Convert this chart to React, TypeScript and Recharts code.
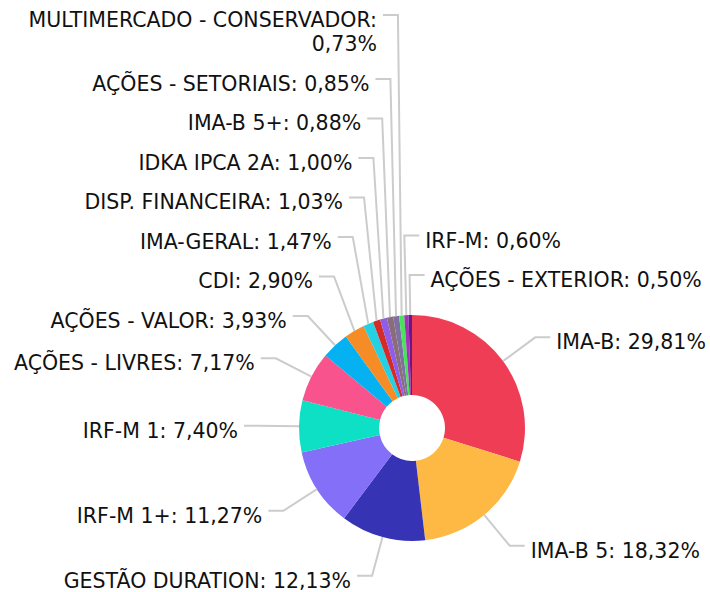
import { PieChart, Pie, Cell } from "recharts";

const categories = [
  "IMA-B",
  "IMA-B 5",
  "GESTÃO DURATION",
  "IRF-M 1+",
  "IRF-M 1",
  "AÇÕES - LIVRES",
  "AÇÕES - VALOR",
  "CDI",
  "IMA-GERAL",
  "DISP. FINANCEIRA",
  "IDKA IPCA 2A",
  "IMA-B 5+",
  "AÇÕES - SETORIAIS",
  "MULTIMERCADO - CONSERVADOR",
  "IRF-M",
  "AÇÕES - EXTERIOR",
];
const shares = [29.81, 18.32, 12.13, 11.27, 7.4, 7.17, 3.93, 2.9, 1.47, 1.03, 1.0, 0.88, 0.85, 0.73, 0.6, 0.5];
const colors = [
  "#ef3d55",
  "#feb945",
  "#3634b4",
  "#836ff8",
  "#0ee0c6",
  "#f8538c",
  "#06b1f1",
  "#f58c26",
  "#25d0e2",
  "#d42a2a",
  "#8f5ee8",
  "#8b6d79",
  "#7e70a0",
  "#46e45a",
  "#a82db8",
  "#6a1784",
];

const CX = 412;
const CY = 428;
const R = 113;
const LABEL_R = 153;
const SEG = 15;
const GAP = 6;
const ROW = 39.5;
const LINE_H = 24.5;
const WRAP_AT = 30;

const data = categories.map((name, i) => ({ name, value: shares[i] }));

type Lbl = { ex: number; ey: number; bx: number; y: number; right: boolean; lines: string[] };

function fmt(v: number) {
  return v.toFixed(2).replace(".", ",") + "%";
}

// amCharts-like layout: labels sit on a ring, then get pushed up so they don't overlap
function layoutLabels(): Lbl[] {
  const total = shares.reduce((a, b) => a + b, 0);
  let cum = 0;
  const out: (Lbl & { cw: number })[] = shares.map((v, i) => {
    const cw = ((cum + v / 2) / total) * 360;
    cum += v;
    const rad = ((90 - cw) * Math.PI) / 180;
    const bx = CX + LABEL_R * Math.cos(rad);
    const full = `${categories[i]}: ${fmt(v)}`;
    const lines = full.length > WRAP_AT ? [categories[i] + ":", fmt(v)] : [full];
    return {
      cw,
      ex: CX + R * Math.cos(rad),
      ey: CY - R * Math.sin(rad),
      bx,
      y: CY - LABEL_R * Math.sin(rad),
      right: cw < 180 || bx >= CX - 10,
      lines,
    };
  });

  const rightSide = out
    .filter((l) => l.right)
    .sort((a, b) => (a.cw > 180 ? a.cw - 360 : a.cw) - (b.cw > 180 ? b.cw - 360 : b.cw));
  const leftSide = out.filter((l) => !l.right).sort((a, b) => b.cw - a.cw);

  for (const col of [rightSide, leftSide]) {
    for (let j = col.length - 2; j >= 0; j--) {
      const maxY = col[j + 1].y - ROW - (col[j].lines.length - 1) * LINE_H;
      if (col[j].y > maxY) col[j].y = maxY;
    }
  }
  return out;
}

const labels = layoutLabels();

function renderLabel(props: any) {
  const l = labels[props.index];
  const dir = l.right ? 1 : -1;
  const endX = l.bx + dir * SEG;
  const tx = l.bx + dir * (SEG + GAP);
  return (
    <g key={`lbl-${props.index}`}>
      <polyline
        points={`${l.ex},${l.ey} ${l.bx},${l.y} ${endX},${l.y}`}
        fill="none"
        stroke="#cccccc"
        strokeWidth={2}
      />
      <text
        x={tx}
        y={l.y + 12}
        textAnchor={l.right ? "start" : "end"}
        fontFamily="'DejaVu Sans', sans-serif"
        fontSize={20.5}
        fill="#111"
      >
        {l.lines.map((s, k) => (
          <tspan key={k} x={tx} dy={k === 0 ? 0 : LINE_H}>
            {s}
          </tspan>
        ))}
      </text>
    </g>
  );
}

export default function App() {
  return (
    <div style={{ position: "absolute", left: 0, top: 0, background: "#fff" }}>
      <PieChart width={710} height={592} margin={{ top: 0, right: 0, bottom: 0, left: 0 }}>
        <Pie
          data={data}
          dataKey="value"
          nameKey="name"
          cx={CX}
          cy={CY}
          innerRadius={33}
          outerRadius={R}
          startAngle={90}
          endAngle={-270}
          stroke="none"
          label={renderLabel}
          labelLine={false}
          isAnimationActive={false}
        >
          {data.map((d, i) => (
            <Cell key={d.name} fill={colors[i]} />
          ))}
        </Pie>
      </PieChart>
    </div>
  );
}
